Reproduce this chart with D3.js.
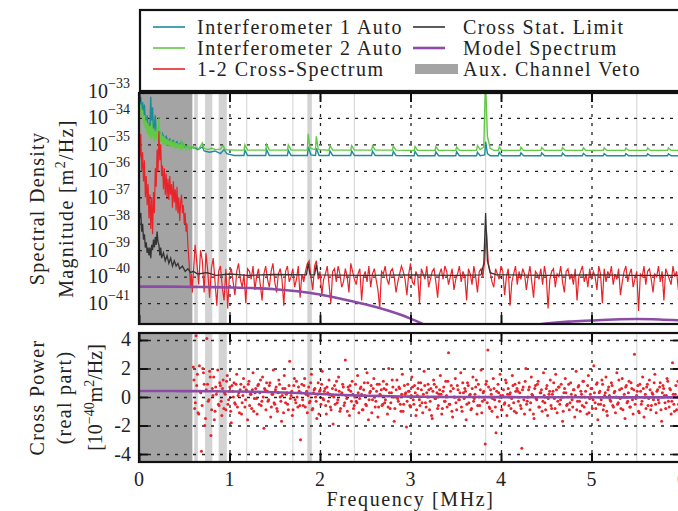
<!DOCTYPE html>
<html>
<head>
<meta charset="utf-8">
<script src="https://cdn.jsdelivr.net/npm/d3@7"></script>
<style>
  body { margin: 0; background: #fff; }
  text { font-family: "Liberation Serif", "Times New Roman", serif; fill: #222; }
</style>
</head>
<body>
<svg id="chart" width="678" height="511"></svg>
<script>
// ---- data (log10 of spectral density in m^2/Hz, frequency in MHz) ----
const ifo1Auto = [
  [0,-33.0],[0.01,-33.6],[0.02,-33.2],[0.03,-33.8],[0.04,-33.4],[0.05,-34.0],[0.06,-33.5],[0.07,-34.1],
  [0.08,-34.3],[0.09,-33.9],[0.1,-34.4],[0.11,-34.2],[0.12,-34.5],[0.13,-33.2],[0.14,-34.4],[0.15,-33.6],
  [0.16,-34.6],[0.17,-34.3],[0.18,-33.9],[0.19,-34.6],[0.2,-34.5],[0.21,-34.7],[0.22,-34.3],[0.23,-34.6],
  [0.24,-34.8],[0.26,-34.6],[0.28,-34.8],[0.3,-34.7],[0.32,-34.9],[0.34,-34.8],[0.36,-34.95],[0.38,-34.85],
  [0.4,-35.0],[0.42,-34.9],[0.44,-35.05],[0.47,-34.9],[0.5,-35.1],[0.53,-35.05],[0.56,-35.15],[0.6,-35.1],
  [0.65,-35.2],[0.7,-35.1],[0.72,-35.25],[0.78,-35.3],[0.84,-35.25],[0.9,-35.35],[0.94,-35.2],[0.97,-35.35],
  [1.05,-35.42],[1.16,-35.42],[1.17,-35.22],[1.2,-35.42],
  [1.4,-35.42],[1.41,-35.2],[1.44,-35.42],
  [1.64,-35.42],[1.65,-35.22],[1.68,-35.42],
  [1.86,-35.42],[1.87,-35.1],[1.9,-35.4],[1.95,-35.42],[1.96,-35.15],[1.99,-35.42],
  [2.1,-35.42],[2.11,-35.25],[2.14,-35.42],
  [2.34,-35.42],[2.35,-35.25],[2.38,-35.42],
  [2.57,-35.42],[2.58,-35.26],[2.61,-35.42],
  [2.8,-35.42],[2.81,-35.27],[2.84,-35.42],
  [3.04,-35.43],[3.05,-35.27],[3.08,-35.43],
  [3.27,-35.43],[3.28,-35.28],[3.31,-35.43],
  [3.5,-35.43],[3.51,-35.28],[3.54,-35.43],
  [3.73,-35.43],[3.74,-35.3],[3.77,-35.43],
  [3.82,-35.4],[3.83,-34.9],[3.85,-35.35],[3.88,-35.43],
  [3.97,-35.43],[3.98,-35.3],[4.01,-35.43],
  [4.21,-35.43],[4.22,-35.32],[4.25,-35.43],
  [4.44,-35.43],[4.45,-35.32],[4.48,-35.43],
  [4.67,-35.43],[4.68,-35.33],[4.71,-35.43],
  [4.9,-35.43],[4.91,-35.34],[4.94,-35.43],
  [5.13,-35.43],[5.14,-35.35],[5.17,-35.43],
  [5.37,-35.43],[5.38,-35.35],[5.41,-35.43],
  [5.61,-35.43],[5.62,-35.36],[5.65,-35.43],
  [5.84,-35.43],[5.85,-35.36],[5.88,-35.43],[6.1,-35.43]
];

const ifo2Auto = [
  [0,-33.3],[0.01,-33.7],[0.02,-33.5],[0.03,-34.0],[0.04,-33.7],[0.05,-34.2],[0.06,-33.9],[0.07,-34.4],
  [0.08,-34.1],[0.09,-34.6],[0.1,-34.2],[0.11,-34.7],[0.12,-34.3],[0.13,-34.8],[0.14,-34.1],[0.15,-34.7],
  [0.16,-34.4],[0.17,-34.9],[0.18,-34.5],[0.19,-34.8],[0.2,-34.4],[0.21,-34.9],[0.22,-34.0],[0.23,-34.6],
  [0.24,-34.9],[0.25,-34.6],[0.26,-35.0],[0.27,-34.7],[0.28,-35.0],[0.29,-34.75],[0.3,-35.05],[0.31,-34.8],
  [0.32,-35.05],[0.33,-34.85],[0.34,-35.1],[0.35,-34.85],[0.36,-35.1],[0.37,-34.9],[0.38,-35.1],[0.39,-34.9],
  [0.4,-35.15],[0.41,-34.95],[0.42,-35.15],[0.43,-34.95],[0.44,-35.15],[0.45,-35.0],[0.46,-35.2],[0.47,-34.8],
  [0.48,-35.15],[0.5,-35.0],[0.52,-35.2],[0.54,-35.05],[0.56,-35.2],[0.58,-35.05],[0.6,-35.15],[0.63,-35.1],
  [0.66,-35.18],[0.7,-34.95],[0.72,-35.15],[0.76,-35.2],[0.8,-35.15],[0.85,-35.2],[0.9,-35.18],[0.93,-35.05],
  [0.95,-35.2],[1.05,-35.22],[1.16,-35.22],[1.17,-35.02],[1.2,-35.22],
  [1.4,-35.22],[1.41,-35.0],[1.44,-35.22],
  [1.64,-35.22],[1.65,-35.02],[1.68,-35.22],
  [1.86,-35.22],[1.87,-34.6],[1.89,-35.15],[1.95,-35.2],[1.96,-34.7],[1.98,-35.2],
  [2.1,-35.22],[2.11,-35.04],[2.14,-35.22],
  [2.34,-35.22],[2.35,-35.05],[2.38,-35.22],
  [2.57,-35.22],[2.58,-35.06],[2.61,-35.22],
  [2.8,-35.22],[2.81,-35.07],[2.84,-35.22],
  [3.04,-35.23],[3.05,-35.08],[3.08,-35.23],
  [3.27,-35.23],[3.28,-35.09],[3.31,-35.23],
  [3.5,-35.23],[3.51,-35.1],[3.54,-35.23],
  [3.73,-35.23],[3.74,-35.05],[3.77,-35.2],
  [3.81,-35.1],[3.825,-33.0],[3.83,-32.5],[3.835,-33.2],[3.85,-34.7],[3.88,-35.15],[3.92,-35.23],
  [3.97,-35.23],[3.98,-35.1],[4.01,-35.23],
  [4.21,-35.23],[4.22,-35.11],[4.25,-35.23],
  [4.44,-35.23],[4.45,-35.12],[4.48,-35.23],
  [4.67,-35.23],[4.68,-35.12],[4.71,-35.23],
  [4.9,-35.23],[4.91,-35.13],[4.94,-35.23],
  [5.13,-35.23],[5.14,-35.13],[5.17,-35.23],
  [5.37,-35.23],[5.38,-35.14],[5.41,-35.23],
  [5.61,-35.23],[5.62,-35.14],[5.65,-35.23],
  [5.84,-35.23],[5.85,-35.14],[5.88,-35.23],[6.1,-35.23]
];

// 1-2 cross-spectrum magnitude, 0 - 0.59 MHz every 0.01 MHz
const crossLow = [
  -34.0,-35.5,-34.6,-36.0,-35.3,-36.4,-35.6,-37.0,-36.2,-37.3,
  -36.5,-37.8,-36.9,-38.2,-37.0,-38.4,-36.8,-37.6,-35.9,-36.6,
  -35.2,-36.0,-34.5,-35.6,-35.0,-36.2,-35.8,-36.7,-35.9,-36.9,
  -36.1,-37.0,-36.3,-37.1,-36.2,-36.9,-36.5,-37.4,-36.4,-37.2,
  -36.7,-37.5,-36.6,-37.6,-37.0,-37.9,-37.2,-36.9,-37.6,-37.3,
  -38.0,-37.6,-38.3,-38.0,-38.8,-39.3,-39.8,-40.4,-39.9,-40.6
];
const crossLowStep = 0.01;
// 0.60 - 6.04 MHz every 0.02 MHz
const crossHigh = [
  -39.9,-38.8,-39.5,-40.3,-39.0,-39.4,-40.6,-39.1,-39.8,-40.8,
  -39.7,-39.3,-40.2,-41.1,-39.8,-39.6,-40.4,-40.9,-39.7,-41.2,
  -39.9,-39.7,-40.2,-40.7,-39.8,-39.5,-40.1,-40.4,-39.9,-41.0,
  -39.7,-39.8,-40.1,-39.6,-40.5,-40.0,-39.7,-40.3,-40.9,-39.9,
  -39.6,-40.1,-40.4,-39.8,-39.5,-40.2,-40.6,-39.9,-39.7,-40.1,
  -41.1,-39.8,-39.6,-40.2,-40.0,-39.7,-40.4,-40.1,-39.6,-40.8,
  -39.9,-40.2,-39.8,-39.5,-39.4,-40.0,-40.5,-39.6,-39.4,-40.1,
  -39.8,-40.7,-40.1,-39.9,-39.6,-40.3,-41.0,-39.8,-39.7,-40.2,
  -39.6,-39.9,-40.4,-40.2,-39.7,-40.0,-40.6,-39.5,-39.8,-40.1,
  -40.3,-39.9,-39.7,-40.9,-40.0,-39.8,-40.2,-39.6,-40.4,-39.9,
  -39.7,-40.1,-40.5,-41.2,-39.8,-39.9,-39.6,-40.1,-40.3,-39.8,
  -39.7,-40.0,-40.6,-40.2,-39.9,-39.6,-39.8,-40.1,-40.7,-39.9,
  -39.5,-40.2,-40.3,-39.8,-40.0,-41.0,-39.7,-39.9,-40.1,-39.6,
  -40.4,-40.1,-39.8,-39.7,-40.2,-40.8,-39.9,-39.7,-40.1,-39.6,
  -39.8,-40.3,-40.0,-39.7,-40.5,-40.1,-39.9,-39.6,-40.2,-39.8,
  -40.0,-40.9,-39.7,-39.9,-40.3,-39.6,-40.0,-40.6,-39.8,-39.7,
  -40.0,-39.4,-38.3,-39.5,-39.8,-40.2,-40.4,-39.7,-39.9,-40.1,
  -39.6,-39.8,-40.7,-40.0,-39.7,-41.1,-40.2,-39.9,-39.6,-40.3,
  -39.8,-40.1,-39.7,-39.9,-40.5,-40.0,-39.6,-40.2,-40.8,-39.8,
  -39.9,-40.1,-39.7,-40.3,-39.6,-40.0,-41.2,-40.1,-39.8,-39.7,
  -40.4,-39.9,-40.0,-39.6,-40.2,-40.6,-39.8,-39.7,-40.1,-39.9,
  -40.3,-39.7,-40.9,-40.0,-39.8,-39.6,-40.2,-39.9,-40.4,-39.7,
  -40.1,-39.8,-40.0,-40.5,-39.6,-39.9,-41.0,-39.7,-40.2,-39.8,
  -40.0,-39.6,-40.3,-39.9,-40.1,-39.7,-40.7,-40.2,-39.8,-39.6,
  -40.2,-39.9,-39.7,-40.4,-40.1,-39.8,-41.3,-39.9,-40.0,-39.6,
  -40.3,-39.8,-39.7,-40.1,-40.6,-39.9,-40.0,-39.6,-40.2,-39.8,
  -40.9,-39.7,-39.9,-40.1,-40.3,-39.6,-40.0,-39.8,-40.5,-39.7,
  -40.1,-39.9,-40.2
];
const crossHighStart = 0.6, crossHighStep = 0.02;

const crossStatLimit = [
  [0,-37.3],[0.01,-37.8],[0.02,-37.6],[0.03,-38.3],[0.04,-38.0],[0.05,-38.6],[0.06,-38.4],[0.07,-38.9],
  [0.08,-38.7],[0.09,-39.1],[0.1,-38.9],[0.11,-39.2],[0.12,-38.9],[0.13,-39.3],[0.14,-38.8],[0.15,-39.0],
  [0.16,-38.6],[0.17,-38.9],[0.18,-38.5],[0.19,-38.8],[0.2,-38.3],[0.21,-38.7],[0.22,-38.8],[0.23,-39.2],
  [0.24,-38.9],[0.25,-39.3],[0.27,-39.1],[0.29,-39.4],[0.31,-39.2],[0.33,-39.5],[0.35,-39.3],[0.37,-39.6],
  [0.39,-39.4],[0.41,-39.6],[0.43,-39.5],[0.45,-39.7],[0.48,-39.6],[0.51,-39.8],[0.54,-39.7],[0.57,-39.85],
  [0.6,-39.8],[0.65,-39.9],[0.75,-39.85],[0.85,-39.95],[1.0,-39.9],[1.2,-39.95],[1.5,-39.92],[1.85,-39.93],
  [1.87,-39.5],[1.89,-39.93],[1.94,-39.93],[1.96,-39.55],[1.98,-39.93],[2.5,-39.95],[3.0,-39.93],[3.5,-39.95],
  [3.78,-39.93],[3.81,-39.5],[3.83,-37.6],[3.85,-39.4],[3.88,-39.85],[3.95,-39.93],[4.5,-39.95],[5.0,-39.93],
  [5.5,-39.95],[6.1,-39.95]
];

// model spectrum, real part in 1e-40 m^2/Hz
const modelFreqs = [0,0.25,0.5,0.75,1,1.25,1.5,1.75,2,2.25,2.5,2.75,3,3.25,3.5,3.75,4,4.25,4.5,4.75,5,5.25,5.5,5.75,6];
const modelReal  = [0.42,0.42,0.415,0.405,0.39,0.37,0.335,0.28,0.21,0.14,0.09,0.052,0.026,0.01,0.002,-0.003,
                    -0.008,-0.013,-0.017,-0.02,-0.022,-0.024,-0.025,-0.024,-0.022];

// measured cross power, real part in 1e-40 m^2/Hz (two interleaved bin sets, 0.015 MHz apart)
const crossRealA = [
  2.1,-0.8,4.3,1.6,-1.2,0.4,-3.8,2.0,0.9,-1.5,4.1,-0.3,1.8,-2.7,0.6,1.4,-1.0,0.2,1.9,-0.6,
  0.8,-1.3,1.2,0.3,-0.9,1.5,-0.2,0.7,-1.8,0.4,1.0,-0.5,1.6,0.1,-1.1,0.9,-0.4,1.3,-0.7,0.5,
  -1.6,1.1,0.2,-0.8,1.7,-0.1,0.6,-1.2,0.9,0.3,-0.6,1.4,-2.2,0.5,1.0,-0.3,0.8,-1.4,0.2,1.9,
  -0.5,0.7,-1.0,1.2,0.0,-1.7,0.6,1.5,-0.4,0.3,-0.9,2.5,0.1,-1.3,0.8,-0.2,1.1,-0.7,0.4,-3.0,
  0.9,-0.6,1.3,0.2,-1.1,0.7,-0.3,1.6,-0.8,0.5,0.0,-1.5,1.0,0.4,-0.5,1.8,-0.2,0.6,-1.2,0.3,
  1.2,-0.7,0.1,-1.9,0.8,0.5,-0.4,1.4,-1.0,0.2,0.9,-0.6,2.6,-0.1,0.7,-1.3,0.4,1.1,-0.8,0.0,
  -0.3,1.5,-1.1,0.6,0.2,-0.9,1.0,-0.5,1.7,-1.6,0.3,0.8,-0.2,1.3,-0.7,0.4,-1.4,0.9,0.1,-0.6,
  1.1,-0.4,0.5,-1.2,2.0,-0.8,0.3,0.7,-1.7,0.0,1.2,-0.3,0.6,-1.0,1.6,-0.5,0.2,-2.1,0.9,0.4,
  -0.7,1.4,-0.2,0.8,-1.3,0.1,1.0,-0.6,0.5,-1.1,1.8,-0.4,0.3,0.9,-0.9,0.6,-1.5,1.2,-0.1,0.7,
  -0.8,0.2,1.5,-1.2,0.4,-0.3,1.1,-0.7,3.1,-0.5,0.8,-1.4,0.0,1.3,-0.9,0.5,-0.2,1.7,-1.0,0.3,
  0.6,-1.6,1.0,-0.4,0.2,-0.8,1.4,-0.1,0.7,-1.2,0.9,-0.6,1.9,-0.3,0.4,-3.3,1.1,3.3,-0.7,0.5,
  -1.0,1.3,-0.2,-2.5,-1.4,0.3,1.6,-0.9,0.1,-0.5,1.2,-1.3,0.6,0.2,-0.8,1.5,-0.4,0.9,-1.1,0.4,
  1.0,-0.6,-3.6,0.7,-1.2,2.0,-0.3,0.5,-0.9,1.4,0.1,-1.5,0.8,-0.2,1.1,-0.7,0.3,-1.0,1.7,-0.4,
  0.6,-1.3,0.2,1.2,-0.8,0.4,-0.1,1.6,-1.1,0.7,-0.5,0.9,-1.7,0.3,1.3,-0.6,0.0,-0.9,1.0,-0.2,
  0.5,-1.4,1.8,-0.3,0.8,-1.0,0.2,1.1,-0.7,0.4,-1.2,1.5,-0.1,0.6,-0.8,2.2,-0.4,0.9,-1.6,0.3,
  -0.5,1.2,-0.9,0.1,1.4,-1.3,0.7,-0.2,1.0,-0.6,0.3,-1.1,1.7,-0.4,0.5,-0.8,1.3,0.0,-1.5,0.8,
  -0.3,1.1,-0.7,0.6,-1.2,3.0,-0.1,0.4,-1.0,0.9,-0.5,1.4,-1.4,0.2,0.7,-0.6,1.2,-0.9,0.3,-0.2,
  1.6,-1.1,0.5,-0.4,1.0,-1.7,0.8,0.1,-0.8,1.3,-0.3,0.6,-1.2,2.4,-0.5,0.2,-0.9,1.1,-0.6,0.4,
  0.0
];
const crossRealB = [
  1.2,-0.4,0.8,-1.1,2.2,0.3,-0.6,1.7,-2.0,0.5,0.9,-0.2,1.4,-0.9,0.1,-1.6,0.7,0.4,-0.5,1.0,
  -0.3,0.6,-0.8,0.2,1.1,-0.5,0.4,-1.0,0.8,0.0,-0.4,0.9,-0.7,0.3,0.5,-1.2,0.1,0.7,-0.2,0.4,
  0.9,-0.6,0.2,0.5,-1.0,0.3,-0.1,0.8,-0.5,1.2,-0.3,0.0,0.6,-0.9,0.4,-0.2,1.0,-0.7,0.2,-0.4,
  0.5,-0.8,0.3,0.9,-0.3,0.1,-1.1,0.6,0.2,-0.5,0.8,-0.1,0.4,-0.9,1.3,-0.4,0.0,0.7,-0.6,0.3,
  -0.2,0.8,-0.7,0.4,0.1,-0.4,1.0,-0.9,0.3,0.6,-0.3,0.2,-1.2,0.5,0.9,-0.1,0.4,-0.6,0.7,-0.3,
  0.2,-0.9,0.6,0.0,-0.5,1.1,-0.2,0.4,-0.8,0.3,0.7,-0.4,0.1,-1.0,0.5,0.8,-0.3,0.2,-0.6,0.9,
  -0.4,0.3,-0.1,0.7,-0.9,0.5,0.1,-0.6,1.0,-0.2,0.4,-1.1,0.6,0.0,-0.3,0.9,-0.7,0.2,0.5,-0.5,
  0.6,-0.2,0.9,-0.7,0.3,-0.4,1.2,0.0,-0.8,0.5,-0.1,0.7,-0.5,0.2,-1.0,0.8,0.3,-0.3,0.4,-0.6,
  0.1,0.7,-0.5,0.3,-0.9,0.6,-0.2,1.0,-0.4,0.2,0.8,-0.7,0.0,0.5,-0.3,-1.3,0.4,0.9,-0.1,0.3,
  -0.6,0.5,0.2,-0.8,0.7,-0.3,0.1,1.1,-0.5,0.4,-1.0,0.6,0.0,-0.4,0.8,-0.2,0.3,-0.7,1.0,-0.1,
  0.4,-0.5,0.8,0.1,-0.9,0.6,-0.3,0.2,1.2,-0.6,0.0,0.5,-1.1,0.3,-0.2,0.9,-0.4,0.7,-0.8,0.2,
  -0.1,0.6,-0.7,0.4,0.9,-0.3,0.1,-0.9,0.5,-0.4,1.0,0.2,-0.6,0.3,-0.1,0.8,-1.0,0.4,0.6,-0.3,
  0.3,-0.8,0.5,-0.2,1.1,-0.5,0.0,0.7,-0.4,0.2,-1.2,0.6,-0.1,0.9,-0.7,0.3,0.5,-0.3,0.1,-0.9,
  0.8,-0.1,0.4,-0.6,0.2,1.0,-0.8,0.5,-0.3,0.7,-0.2,0.0,-1.0,0.6,0.3,-0.5,0.9,-0.4,0.2,-0.7,
  0.5,0.1,-0.9,0.7,-0.3,0.4,-0.6,1.1,0.0,-0.4,0.8,-1.1,0.2,0.6,-0.2,0.3,-0.8,1.0,-0.5,0.4,
  -0.2,0.9,-0.6,0.3,-1.0,0.5,0.1,-0.3,0.8,-0.7,0.4,0.0,-0.5,1.2,-0.1,0.6,-0.9,0.2,0.7,-0.4,
  0.3,-0.7,1.0,-0.2,0.5,-0.5,0.1,0.8,-1.1,0.4,-0.3,0.6,0.0,-0.8,0.9,-0.1,0.5,-0.6,0.2,1.0,
  -0.5,0.4,-0.2,0.7,-0.9,0.3,0.6,-0.4,0.1,1.1,-0.7,0.5,-0.3,0.2,-1.0,0.8,0.0,-0.5,0.4,-0.2
];
const crossRealStartA = 0.6, crossRealStartB = 0.6075, crossRealStep = 0.015;

// aux channel veto (MHz)
const vetoCore = [[0, 0.59]];
const vetoBands = [[0.61, 0.65], [0.73, 0.81], [0.88, 0.97], [1.86, 1.91]];
const vetoLines = [1.19, 1.70, 2.38, 3.83, 5.50];

const decades = [-41, -40, -39, -38, -37, -36, -35, -34, -33];
const powerTicks = [-4, -2, 0, 2, 4];
const freqTicks = [0, 1, 2, 3, 4, 5, 6];

const legendLabels = ['Interferometer 1 Auto', 'Interferometer 2 Auto', '1-2 Cross-Spectrum',
                      'Cross Stat. Limit', 'Model Spectrum', 'Aux. Channel Veto'];

// ---- layout ----
const colors = {
  ifo1: '#1c8c98', ifo2: '#62c846', cross: '#e8242a', limit: '#333333',
  model: '#8c4ca6', veto: '#a4a4a4', band: '#d3d3d3', vline: '#dadada'
};
const L = 139, R = 682;
const topY0 = 93, topY1 = 324;
const botY0 = 333, botY1 = 462;
const FS = '20px', SUP = '14px', LS = '1.3px';

const svg = d3.select('#chart');

const x = d3.scaleLinear().domain([0, 6]).range([L, R]);
const yTop = d3.scaleLog().domain([10 ** -41.79, 10 ** -33.06]).range([topY1, topY0]);
const yBot = d3.scaleLinear().domain([-4.56, 4.49]).range([botY1, botY0]);

const defs = svg.append('defs');
defs.append('clipPath').attr('id', 'clipTop')
  .append('rect').attr('x', L).attr('y', topY0).attr('width', R - L).attr('height', topY1 - topY0);
defs.append('clipPath').attr('id', 'clipBot')
  .append('rect').attr('x', L).attr('y', botY0).attr('width', R - L).attr('height', botY1 - botY0);

function drawBackground(g, y0, y1) {
  g.selectAll('rect.core').data(vetoCore).enter().append('rect')
    .attr('x', d => x(d[0])).attr('width', d => x(d[1]) - x(d[0]))
    .attr('y', y0).attr('height', y1 - y0).attr('fill', colors.veto);
  g.selectAll('rect.band').data(vetoBands).enter().append('rect')
    .attr('x', d => x(d[0])).attr('width', d => x(d[1]) - x(d[0]))
    .attr('y', y0).attr('height', y1 - y0).attr('fill', colors.band);
  g.selectAll('line.vl').data(vetoLines).enter().append('line')
    .attr('x1', d => x(d)).attr('x2', d => x(d)).attr('y1', y0).attr('y2', y1)
    .attr('stroke', colors.vline).attr('stroke-width', 1.2);
}

function dotted(sel) {
  sel.selectAll('.domain').remove();
  sel.selectAll('.tick text').remove();
  sel.selectAll('.tick line').attr('stroke', '#222').attr('stroke-width', 1.3)
    .attr('stroke-dasharray', '3,6');
}

function frameTicks(sel, width) {
  sel.selectAll('.domain').remove();
  sel.selectAll('.tick text').remove();
  sel.selectAll('.tick line').attr('stroke', '#111').attr('stroke-width', width);
}

// ---------------- top panel ----------------
const gt = svg.append('g');
const gtData = gt.append('g').attr('clip-path', 'url(#clipTop)');
drawBackground(gtData, topY0, topY1);

gtData.append('g').attr('transform', `translate(${L},0)`)
  .call(d3.axisLeft(yTop).tickValues(decades.slice(0, -1).map(d => 10 ** d)).tickSize(-(R - L)))
  .call(dotted);
gtData.append('g').attr('transform', `translate(0,${topY1})`)
  .call(d3.axisBottom(x).tickValues([1, 2, 3, 4, 5]).tickSize(-(topY1 - topY0)))
  .call(dotted);

const lineLog = d3.line().x(d => x(d[0])).y(d => yTop(10 ** d[1]));
const crossPts = crossLow.map((v, i) => [i * crossLowStep, v])
  .concat(crossHigh.map((v, i) => [crossHighStart + i * crossHighStep, v]));
const modelPts = modelFreqs.map((f, i) => [f, Math.log10(Math.abs(modelReal[i]) * 1e-40)]);

gtData.append('path').datum(ifo1Auto).attr('d', lineLog)
  .attr('fill', 'none').attr('stroke', colors.ifo1).attr('stroke-width', 1.4);
gtData.append('path').datum(ifo2Auto).attr('d', lineLog)
  .attr('fill', 'none').attr('stroke', colors.ifo2).attr('stroke-width', 1.4);
gtData.append('path').datum(crossPts).attr('d', lineLog)
  .attr('fill', 'none').attr('stroke', colors.cross).attr('stroke-width', 1.2);
gtData.append('path').datum(crossStatLimit).attr('d', lineLog)
  .attr('fill', 'none').attr('stroke', colors.limit).attr('stroke-width', 1.3);
gtData.append('path').datum(modelPts).attr('d', lineLog.curve(d3.curveMonotoneX))
  .attr('fill', 'none').attr('stroke', colors.model).attr('stroke-width', 2.6);

// ticks on the frame
const minorTicks = [];
for (let e = -42; e < -33; e++) for (let k = 2; k <= 9; k++) minorTicks.push(k * 10 ** e);
const topTickVals = decades.map(d => 10 ** d);
gt.append('g').attr('transform', `translate(${L},0)`).attr('clip-path', 'url(#clipTop)')
  .call(d3.axisLeft(yTop).tickValues(topTickVals).tickSize(-8)).call(s => frameTicks(s, 1.6));
gt.append('g').attr('transform', `translate(${L},0)`).attr('clip-path', 'url(#clipTop)')
  .call(d3.axisLeft(yTop).tickValues(minorTicks).tickSize(-4)).call(s => frameTicks(s, 1.1));
gt.append('g').attr('transform', `translate(${R},0)`).attr('clip-path', 'url(#clipTop)')
  .call(d3.axisRight(yTop).tickValues(topTickVals).tickSize(-8)).call(s => frameTicks(s, 1.6));
gt.append('g').attr('transform', `translate(0,${topY1})`)
  .call(d3.axisBottom(x).tickValues(freqTicks).tickSize(-9)).call(s => frameTicks(s, 2));
gt.append('g').attr('transform', `translate(0,${topY0})`)
  .call(d3.axisTop(x).tickValues(freqTicks).tickSize(-9)).call(s => frameTicks(s, 2));

gt.append('rect').attr('x', L).attr('y', topY0).attr('width', R - L).attr('height', topY1 - topY0)
  .attr('fill', 'none').attr('stroke', '#111').attr('stroke-width', 2.2);

// decade labels
const decLab = gt.append('g').selectAll('text').data(decades).enter().append('text')
  .attr('x', 130).attr('y', d => yTop(10 ** d) + 6.5)
  .attr('text-anchor', 'end').style('font-size', FS);
decLab.append('tspan').text('10');
decLab.append('tspan').attr('dy', -10).style('font-size', SUP).text(d => '−' + String(-d));

gt.append('text').attr('transform', `translate(44,${(topY0 + topY1) / 2}) rotate(-90)`)
  .attr('text-anchor', 'middle').style('font-size', FS).style('letter-spacing', LS).text('Spectral Density');
const magLab = gt.append('text').attr('transform', `translate(73,${(topY0 + topY1) / 2}) rotate(-90)`)
  .attr('text-anchor', 'middle').style('font-size', FS).style('letter-spacing', LS);
magLab.append('tspan').text('Magnitude [m');
magLab.append('tspan').attr('dy', -8).style('font-size', SUP).text('2');
magLab.append('tspan').attr('dy', 8).text('/Hz]');

// ---------------- bottom panel ----------------
const gb = svg.append('g');
const gbData = gb.append('g').attr('clip-path', 'url(#clipBot)');
drawBackground(gbData, botY0, botY1);

gbData.append('g').attr('transform', `translate(${L},0)`)
  .call(d3.axisLeft(yBot).tickValues(powerTicks).tickSize(-(R - L)))
  .call(dotted);
gbData.append('g').attr('transform', `translate(0,${botY1})`)
  .call(d3.axisBottom(x).tickValues([1, 2, 3, 4, 5]).tickSize(-(botY1 - botY0)))
  .call(dotted);

const realPts = crossRealA.map((v, i) => [crossRealStartA + i * crossRealStep, v])
  .concat(crossRealB.map((v, i) => [crossRealStartB + i * crossRealStep, v]));
gbData.append('g').selectAll('circle').data(realPts).enter().append('circle')
  .attr('cx', d => x(d[0])).attr('cy', d => yBot(d[1])).attr('r', 1.5)
  .attr('fill', colors.cross);

gbData.append('path').datum(modelFreqs.map((f, i) => [f, modelReal[i]]))
  .attr('d', d3.line().x(d => x(d[0])).y(d => yBot(d[1])).curve(d3.curveMonotoneX))
  .attr('fill', 'none').attr('stroke', colors.model).attr('stroke-width', 2.6);

gb.append('g').attr('transform', `translate(${L},0)`)
  .call(d3.axisLeft(yBot).tickValues(powerTicks).tickSize(-9)).call(s => frameTicks(s, 2));
gb.append('g').attr('transform', `translate(${R},0)`)
  .call(d3.axisRight(yBot).tickValues(powerTicks).tickSize(-9)).call(s => frameTicks(s, 2));
gb.append('g').attr('transform', `translate(0,${botY1})`)
  .call(d3.axisBottom(x).tickValues(freqTicks).tickSize(-9)).call(s => frameTicks(s, 2));
gb.append('g').attr('transform', `translate(0,${botY0})`)
  .call(d3.axisTop(x).tickValues(freqTicks).tickSize(-9)).call(s => frameTicks(s, 2));

gb.append('rect').attr('x', L).attr('y', botY0).attr('width', R - L).attr('height', botY1 - botY0)
  .attr('fill', 'none').attr('stroke', '#111').attr('stroke-width', 2.2);

gb.append('g').selectAll('text').data(powerTicks).enter().append('text')
  .attr('x', 131).attr('y', d => yBot(d) + 6.5).attr('text-anchor', 'end')
  .style('font-size', FS).text(d => String(d));

gb.append('g').selectAll('text').data(freqTicks).enter().append('text')
  .attr('x', d => x(d)).attr('y', 486).attr('text-anchor', 'middle')
  .style('font-size', FS).text(d => String(d));

gb.append('text').attr('x', (L + R) / 2).attr('y', 506).attr('text-anchor', 'middle')
  .style('font-size', FS).style('letter-spacing', '1.6px').text('Frequency [MHz]');

const botMid = (botY0 + botY1) / 2;
gb.append('text').attr('transform', `translate(44,${botMid}) rotate(-90)`)
  .attr('text-anchor', 'middle').style('font-size', FS).style('letter-spacing', LS).text('Cross Power');
gb.append('text').attr('transform', `translate(71,${botMid}) rotate(-90)`)
  .attr('text-anchor', 'middle').style('font-size', FS).style('letter-spacing', LS).text('(real part)');
const unitLab = gb.append('text').attr('transform', `translate(102,${botMid}) rotate(-90)`)
  .attr('text-anchor', 'middle').style('font-size', FS);
unitLab.append('tspan').text('[10');
unitLab.append('tspan').attr('dy', -8).style('font-size', SUP).text('−40');
unitLab.append('tspan').attr('dy', 8).text('m');
unitLab.append('tspan').attr('dy', -8).style('font-size', SUP).text('2');
unitLab.append('tspan').attr('dy', 8).text('/Hz]');

// ---------------- legend ----------------
const lg = svg.append('g');
lg.append('rect').attr('x', 140).attr('y', 10).attr('width', 560).attr('height', 81)
  .attr('fill', '#fff').attr('stroke', '#111').attr('stroke-width', 2.2);
const legendColors = [colors.ifo1, colors.ifo2, colors.cross, colors.limit, colors.model, colors.veto];
const rowsY = [27, 48, 69];
const items = lg.selectAll('g.item').data(legendLabels).enter().append('g')
  .attr('transform', (d, i) => `translate(${i < 3 ? 153 : 413},${rowsY[i % 3]})`);
items.each(function (d, i) {
  const g = d3.select(this);
  if (i === 5) {
    g.append('rect').attr('x', 2).attr('y', -5).attr('width', 43).attr('height', 10).attr('fill', legendColors[i]);
  } else {
    g.append('line').attr('x1', 0).attr('x2', 32).attr('stroke', legendColors[i])
      .attr('stroke-width', i === 4 ? 2.6 : 1.6);
  }
  g.append('text').attr('x', i < 3 ? 44 : 50).attr('y', 6.5)
    .style('font-size', FS).style('letter-spacing', '1.5px').text(d);
});
</script>
</body>
</html>
